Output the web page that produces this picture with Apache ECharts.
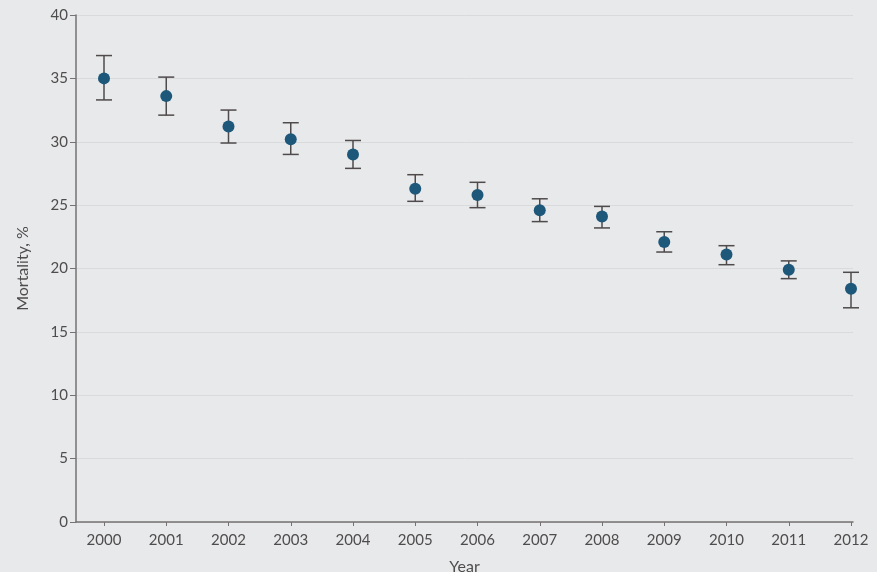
<!DOCTYPE html>
<html>
<head>
<meta charset="utf-8">
<script src="https://cdn.jsdelivr.net/npm/echarts@6/dist/echarts.min.js"></script>
<style>
  html, body { margin: 0; padding: 0; background: #e8e9ea; }
  #main { width: 877px; height: 572px; }
</style>
</head>
<body>
<div id="main"></div>
<script>
// mortality by year, with 95% CI
var years = [2000, 2001, 2002, 2003, 2004, 2005, 2006, 2007, 2008, 2009, 2010, 2011, 2012];
var mortality = [35.0, 33.6, 31.2, 30.2, 29.0, 26.3, 25.8, 24.6, 24.1, 22.1, 21.1, 19.9, 18.4];
var ciLow  = [33.3, 32.1, 29.9, 29.0, 27.9, 25.3, 24.8, 23.7, 23.2, 21.3, 20.3, 19.2, 16.9];
var ciHigh = [36.8, 35.1, 32.5, 31.5, 30.1, 27.4, 26.8, 25.5, 24.9, 22.9, 21.8, 20.6, 19.7];
var yTicks = [0, 5, 10, 15, 20, 25, 30, 35, 40];

var textColor = '#4f4c4d';
var axisColor = '#767172';

var points = [];
var bars = [];
for (var i = 0; i < years.length; i++) {
    points.push([years[i], mortality[i]]);
    bars.push([years[i], ciLow[i], ciHigh[i]]);
}

var chart = echarts.init(document.getElementById('main'));
chart.setOption({
    backgroundColor: '#e8e9ea',
    animation: false,
    textStyle: { fontFamily: 'Lato', color: textColor },
    grid: [
        // frame: axis lines, y labels, gridlines
        { left: 76, right: 24, top: 15, bottom: 50, outerBoundsMode: 'none', containLabel: false },
        // data area, first year sits a bit right of the y axis
        { left: 104, right: 26, top: 15, bottom: 50, outerBoundsMode: 'none', containLabel: false }
    ],
    xAxis: [
        {
            gridIndex: 0,
            type: 'value',
            min: 0,
            max: 1,
            name: 'Year',
            nameLocation: 'middle',
            nameGap: 37,
            nameTextStyle: { fontSize: 16, color: textColor },
            axisLine: { show: true, lineStyle: { color: axisColor, width: 1.5 } },
            axisTick: { show: false },
            axisLabel: { show: false },
            splitLine: { show: false }
        },
        {
            gridIndex: 1,
            type: 'value',
            min: years[0],
            max: years[years.length - 1],
            interval: 1,
            axisLine: { show: false },
            axisTick: { show: true, inside: false, length: 4, lineStyle: { color: axisColor } },
            axisLabel: { fontSize: 15, color: textColor, margin: 11, formatter: function (v) { return String(v); } },
            splitLine: { show: false }
        }
    ],
    yAxis: [
        {
            gridIndex: 0,
            type: 'value',
            min: yTicks[0],
            max: yTicks[yTicks.length - 1],
            interval: 5,
            name: 'Mortality, %',
            nameLocation: 'middle',
            nameGap: 45,
            nameTextStyle: { fontSize: 16, color: textColor },
            axisLine: { show: true, lineStyle: { color: axisColor, width: 1.5 } },
            axisTick: { show: true, length: 6, lineStyle: { color: axisColor } },
            axisLabel: { fontSize: 15, color: textColor, margin: 8 },
            splitLine: { show: true, lineStyle: { color: '#d9dadc', width: 1 } }
        },
        {
            gridIndex: 1,
            type: 'value',
            min: yTicks[0],
            max: yTicks[yTicks.length - 1],
            show: false
        }
    ],
    series: [
        {
            name: 'CI',
            type: 'custom',
            xAxisIndex: 1,
            yAxisIndex: 1,
            data: bars,
            renderItem: function (params, api) {
                var lo = api.coord([api.value(0), api.value(1)]);
                var hi = api.coord([api.value(0), api.value(2)]);
                var w = 8;
                var style = { stroke: '#4f4a4b', lineWidth: 1.5 };
                return {
                    type: 'group',
                    children: [
                        { type: 'line', shape: { x1: lo[0], y1: lo[1], x2: hi[0], y2: hi[1] }, style: style },
                        { type: 'line', shape: { x1: hi[0] - w, y1: hi[1], x2: hi[0] + w, y2: hi[1] }, style: style },
                        { type: 'line', shape: { x1: lo[0] - w, y1: lo[1], x2: lo[0] + w, y2: lo[1] }, style: style }
                    ]
                };
            },
            z: 2
        },
        {
            name: 'Mortality',
            type: 'scatter',
            xAxisIndex: 1,
            yAxisIndex: 1,
            data: points,
            symbolSize: 12,
            itemStyle: { color: '#1d5779', opacity: 1 },
            z: 3
        }
    ]
});
</script>
</body>
</html>
